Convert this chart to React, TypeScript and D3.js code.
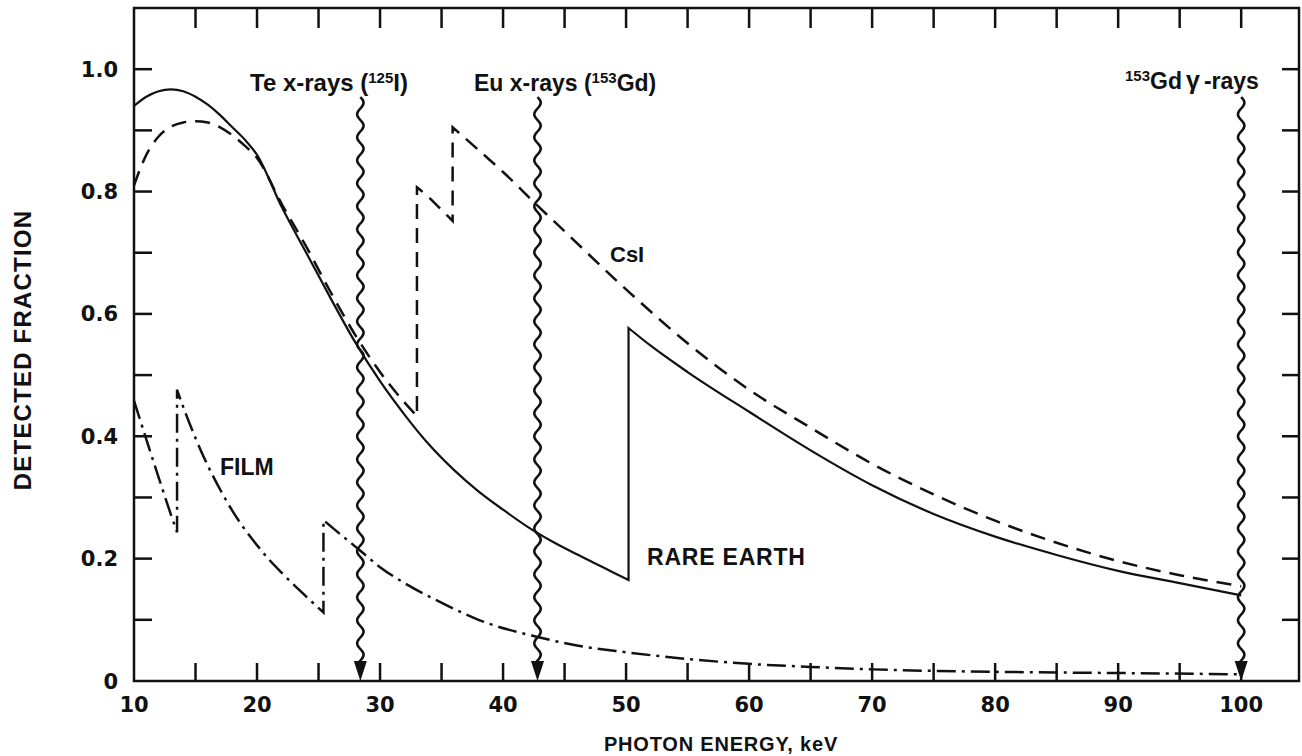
import React from 'react';
import * as d3 from 'd3';

// rare earth screen (solid line); a repeated energy marks a K-edge jump
const rareEarthKeV = [10, 11, 12, 13, 14, 15, 16, 17, 18, 19, 20, 22, 24, 26, 28, 30, 32, 34, 36, 38, 40, 42, 44, 46, 48, 50.2, 50.2, 52, 55, 60, 65, 70, 75, 80, 85, 90, 95, 100];
const rareEarthFrac = [0.94, 0.955, 0.964, 0.967, 0.964, 0.955, 0.942, 0.925, 0.905, 0.885, 0.86, 0.775, 0.7, 0.625, 0.553, 0.49, 0.435, 0.386, 0.345, 0.31, 0.28, 0.252, 0.228, 0.207, 0.187, 0.165, 0.577, 0.548, 0.505, 0.44, 0.377, 0.32, 0.273, 0.236, 0.206, 0.18, 0.16, 0.14];

// CsI (dashed)
const csiKeV = [10, 10.5, 11, 12, 13, 14, 15, 16, 17, 18, 19, 20, 22, 24, 26, 28, 30, 32, 33, 33, 34, 35, 35.9, 35.9, 38, 40, 42.8, 45, 50, 55, 60, 65, 70, 75, 80, 85, 90, 95, 100];
const csiFrac = [0.81, 0.837, 0.86, 0.89, 0.906, 0.913, 0.915, 0.913, 0.905, 0.892, 0.875, 0.855, 0.78, 0.71, 0.635, 0.565, 0.505, 0.455, 0.433, 0.807, 0.79, 0.77, 0.752, 0.905, 0.868, 0.832, 0.777, 0.735, 0.64, 0.552, 0.476, 0.414, 0.355, 0.305, 0.262, 0.226, 0.196, 0.173, 0.155];

// film (dash-dot)
const filmKeV = [10, 11, 12, 13, 13.5, 13.5, 14, 15, 16, 17, 18, 19, 20, 21, 22, 23, 24, 25.4, 25.4, 27, 28.4, 30, 32, 35, 38, 42.8, 46, 50, 55, 60, 65, 70, 80, 90, 100];
const filmFrac = [0.458, 0.395, 0.333, 0.272, 0.243, 0.476, 0.448, 0.397, 0.352, 0.313, 0.278, 0.248, 0.222, 0.198, 0.177, 0.157, 0.138, 0.112, 0.263, 0.236, 0.213, 0.186, 0.16, 0.128, 0.1, 0.072, 0.058, 0.047, 0.036, 0.028, 0.023, 0.019, 0.015, 0.013, 0.011];

// source lines (wavy arrows)
const sourceKeV = [28.4, 42.8, 100];

const xTickLabels = [10, 20, 30, 40, 50, 60, 70, 80, 90, 100];
const yTickLabels = [0, 0.2, 0.4, 0.6, 0.8, 1.0];

const INK = '#111';

function segmentPath(
  es: number[],
  fs: number[],
  x: d3.ScaleLinear<number, number>,
  y: d3.ScaleLinear<number, number>
) {
  // split at repeated energies, draw each part smooth, join them with the vertical jump
  const segs: [number, number][][] = [];
  let cur: [number, number][] = [];
  es.forEach((e, i) => {
    if (i > 0 && e === es[i - 1]) {
      segs.push(cur);
      cur = [];
    }
    cur.push([e, fs[i]]);
  });
  segs.push(cur);
  const line = d3
    .line<[number, number]>()
    .x((d) => x(d[0]))
    .y((d) => y(d[1]))
    .curve(d3.curveMonotoneX);
  return segs.map((s, i) => (i === 0 ? line(s) : (line(s) || '').replace(/^M/, 'L'))).join('');
}

function wavyPath(cx: number, y0: number, y1: number) {
  const pts: [number, number][] = d3.range(y0, y1, 1).map((yy) => [cx + 3.2 * Math.sin(((yy - y0) / 23) * 2 * Math.PI), yy]);
  pts.push([cx, y1]);
  return d3.line()(pts) || '';
}

export default function App() {
  const x = d3.scaleLinear().domain([10, 104.7]).range([134, 1299]);
  const y = d3.scaleLinear().domain([0, 1.1]).range([681, 8]);

  const minorX = d3.range(15, 101, 5);
  const minorY = d3.range(1, 11).map((d) => d / 10);
  const numFont = '"DejaVu Sans", sans-serif';
  const txtFont = '"Liberation Sans", Arial, sans-serif';

  return (
    <svg width={1302} height={756} style={{ position: 'absolute', left: 0, top: 0, background: '#fff' }}>
      {/* frame */}
      <rect x={x(10)} y={y(1.1)} width={x(104.7) - x(10)} height={y(0) - y(1.1)} fill="none" stroke={INK} strokeWidth={2.5} />

      {/* ticks */}
      {minorX.map((v) => (
        <g key={'xt' + v} stroke={INK} strokeWidth={2.5}>
          <line x1={x(v)} x2={x(v)} y1={y(0)} y2={y(0) - 18} />
          <line x1={x(v)} x2={x(v)} y1={y(1.1)} y2={y(1.1) + 20} />
        </g>
      ))}
      {minorY.map((v) => (
        <g key={'yt' + v} stroke={INK} strokeWidth={2.5}>
          <line x1={x(10)} x2={x(10) + 18} y1={y(v)} y2={y(v)} />
          <line x1={x(104.7)} x2={x(104.7) - 17} y1={y(v)} y2={y(v)} />
        </g>
      ))}

      {/* tick labels */}
      <g fontFamily={numFont} fontWeight="bold" fontSize={21} fill={INK}>
        {xTickLabels.map((v) => (
          <text key={'xl' + v} x={x(v)} y={712} textAnchor="middle">
            {v}
          </text>
        ))}
        {yTickLabels.map((v) => (
          <text key={'yl' + v} x={118} y={y(v) + 7.5} textAnchor="end">
            {v === 0 ? '0' : d3.format('.1f')(v)}
          </text>
        ))}
      </g>

      {/* axis titles */}
      <text x={721} y={751} textAnchor="middle" fontFamily={txtFont} fontWeight="bold" fontSize={20} letterSpacing={0.8} fill={INK}>
        PHOTON ENERGY, keV
      </text>
      <text
        transform="translate(31,350) rotate(-90)"
        textAnchor="middle"
        fontFamily={txtFont}
        fontWeight="bold"
        fontSize={24}
        letterSpacing={1.2}
        fill={INK}
      >
        DETECTED FRACTION
      </text>

      {/* curves */}
      <path d={segmentPath(rareEarthKeV, rareEarthFrac, x, y)} fill="none" stroke={INK} strokeWidth={2.2} />
      <path d={segmentPath(csiKeV, csiFrac, x, y)} fill="none" stroke={INK} strokeWidth={2.5} strokeDasharray="15,9" />
      <path d={segmentPath(filmKeV, filmFrac, x, y)} fill="none" stroke={INK} strokeWidth={2.5} strokeDasharray="19,6,3,6" />

      {/* wavy source arrows */}
      {sourceKeV.map((e) => (
        <g key={'src' + e}>
          <path d={wavyPath(x(e), 97, y(0) - 18)} fill="none" stroke={INK} strokeWidth={2.6} />
          <path d={`M${x(e)},${y(0)} L${x(e) - 6.5},${y(0) - 20} L${x(e) + 6.5},${y(0) - 20} Z`} fill={INK} />
        </g>
      ))}

      {/* labels */}
      <g fontFamily={txtFont} fontWeight="bold" fill={INK}>
        <text x={250} y={91} fontSize={24}>
          Te x-rays (<tspan fontSize={15} dy={-8}>125</tspan>
          <tspan dy={8}>I)</tspan>
        </text>
        <text x={474} y={91} fontSize={23}>
          Eu x-rays (<tspan fontSize={15} dy={-8}>153</tspan>
          <tspan dy={8}>Gd)</tspan>
        </text>
        <text x={1125} y={89} fontSize={23}>
          <tspan fontSize={15} dy={-8}>153</tspan>
          <tspan dy={8}>Gd</tspan>
          <tspan dx={4} fontSize={25}>γ</tspan>
          <tspan dx={4}>-rays</tspan>
        </text>
        <text x={220} y={475} fontSize={23}>FILM</text>
        <text x={610} y={262} fontSize={22}>CsI</text>
        <text x={647} y={565} fontSize={23} letterSpacing={0.8}>RARE EARTH</text>
      </g>
    </svg>
  );
}
